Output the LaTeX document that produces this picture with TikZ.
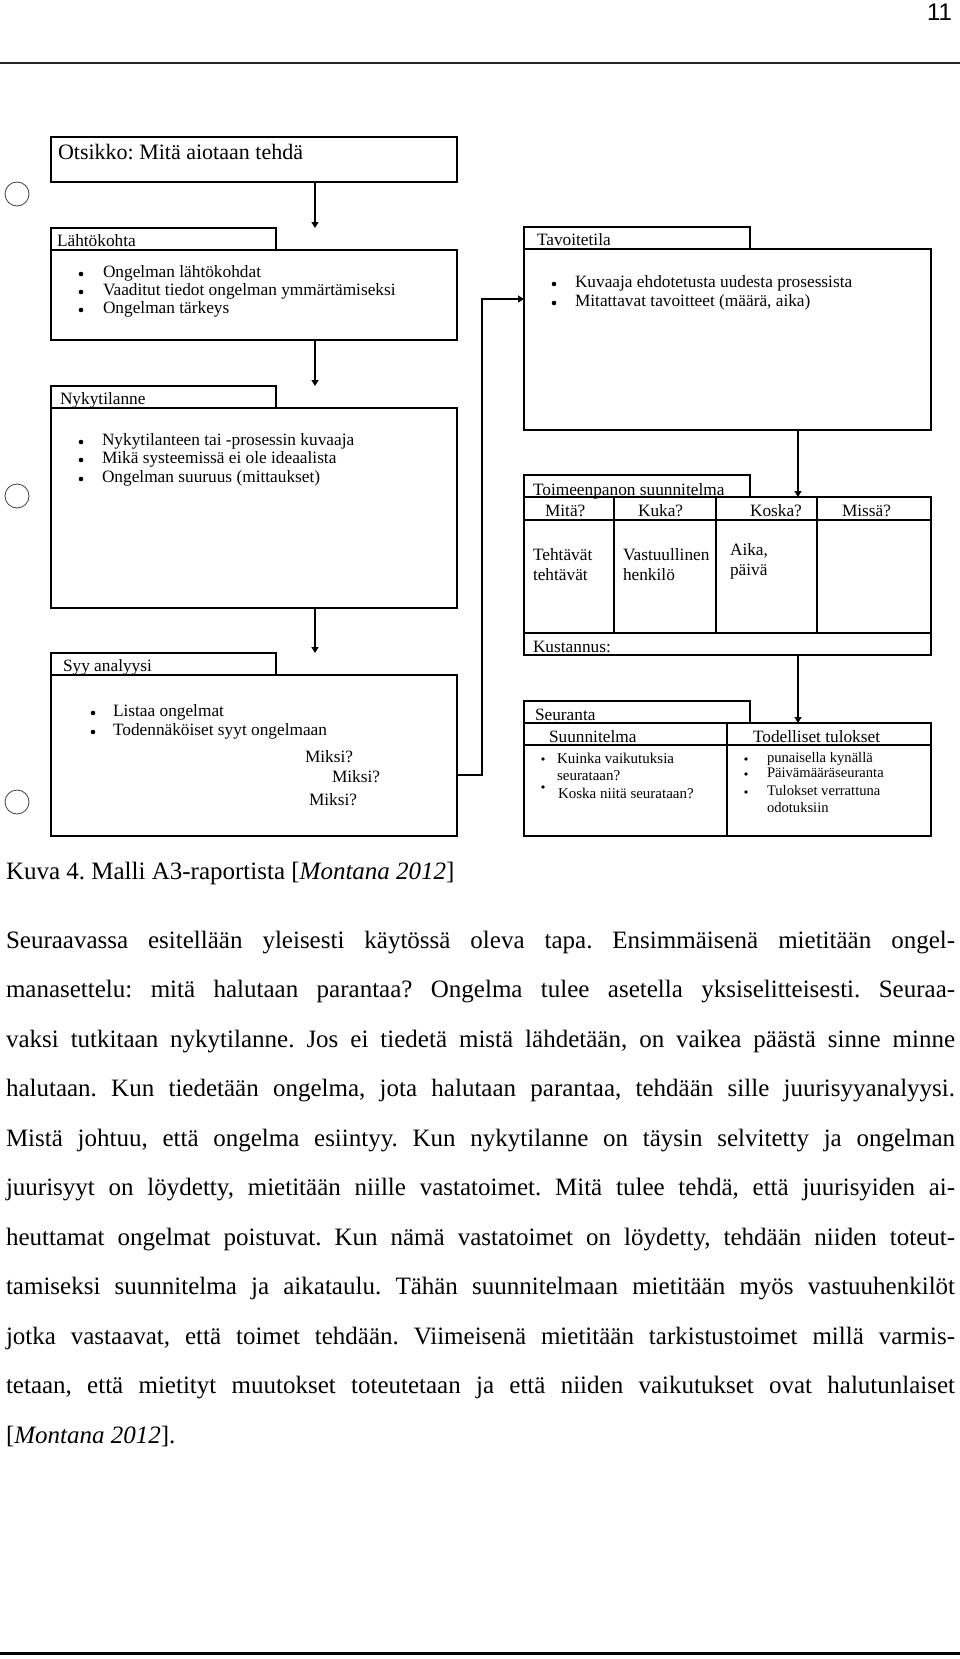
\documentclass[tikz,border=0pt]{standalone}
\usepackage{fontspec}
\setmainfont{Liberation Serif}
\newfontfamily\pnumfont{Liberation Sans}
\usetikzlibrary{arrows.meta}
\frenchspacing
\begin{document}
\begin{tikzpicture}[x=1pt,y=-1pt,
  every node/.style={inner sep=0pt, outer sep=0pt},
  frame/.style={draw=black, line width=1.1pt, anchor=north west},
  tfont/.style={font=\fontsize{17.3}{19}\selectfont},
  txt/.style={anchor=base west, tfont},
  small/.style={anchor=base west, font=\fontsize{15}{17}\selectfont},
  smaller/.style={anchor=base west, font=\fontsize{14.6}{17}\selectfont},
  body/.style={anchor=base west, font=\fontsize{25}{30}\selectfont},
  dot/.style={circle, fill=black, minimum size=4.6pt},
  sdot/.style={circle, fill=black, minimum size=3.6pt},
  ring/.style={circle, draw=black!75, line width=0.8pt, minimum size=24pt},
  conn/.style={draw=black, line width=1.2pt, -{Triangle[length=6pt,width=7pt]}},
  rule/.style={draw=black, line width=1.5pt}
]
\useasboundingbox (0,0) rectangle (960,1659);

% page number and rules
\node[anchor=base east, font=\pnumfont\fontsize{24}{24}\selectfont] (pnum) at (952,21) {11};
\draw[rule, black!85] (0,63) -- (960,63);
\draw[draw=black, line width=3pt] (0,1653) -- (960,1653);

% side circles
\node[ring] (c1) at (17,194) {};
\node[ring] (c2) at (17,496) {};
\node[ring] (c3) at (17,802) {};

% ---------- left column ----------
\node[frame, minimum width=406pt, minimum height=45pt] (otsikko) at (51,137) {};
\node[anchor=base west, font=\fontsize{22}{24}\selectfont] (otsikkot) at (58,160) {Otsikko: Mitä aiotaan tehdä};

\node[frame, minimum width=225pt, minimum height=22pt] (lahtotab) at (51,228) {};
\node[txt] (lahtot) at (57,246) {Lähtökohta};
\node[frame, minimum width=406pt, minimum height=90pt] (lahto) at (51,250) {};
\node[dot] (lb1) at (81,274) {};
\node[dot] (lb2) at (81,292) {};
\node[dot] (lb3) at (81,310) {};
\node[txt] (l1) at (103,277) {Ongelman lähtökohdat};
\node[txt] (l2) at (103,295) {Vaaditut tiedot ongelman ymmärtämiseksi};
\node[txt] (l3) at (103,313) {Ongelman tärkeys};

\node[frame, minimum width=225pt, minimum height=22pt] (nykytab) at (51,386) {};
\node[txt] (nykyt) at (60,404) {Nykytilanne};
\node[frame, minimum width=406pt, minimum height=200pt] (nyky) at (51,408) {};
\node[dot] (nb1) at (81,442) {};
\node[dot] (nb2) at (81,460) {};
\node[dot] (nb3) at (81,479) {};
\node[txt] (n1) at (102,445) {Nykytilanteen tai -prosessin kuvaaja};
\node[txt] (n2) at (102,463) {Mikä systeemissä ei ole ideaalista};
\node[txt] (n3) at (102,482) {Ongelman suuruus (mittaukset)};

\node[frame, minimum width=225pt, minimum height=22pt] (syytab) at (51,653) {};
\node[txt] (syyt) at (63,671) {Syy analyysi};
\node[frame, minimum width=406pt, minimum height=161pt] (syy) at (51,675) {};
\node[dot] (sb1) at (93,713) {};
\node[dot] (sb2) at (93,732) {};
\node[txt] (s1) at (113,716) {Listaa ongelmat};
\node[txt] (s2) at (113,735) {Todennäköiset syyt ongelmaan};
\node[txt] (m1) at (305,762) {Miksi?};
\node[txt] (m2) at (332,782) {Miksi?};
\node[txt] (m3) at (309,805) {Miksi?};

% ---------- right column ----------
\node[frame, minimum width=226pt, minimum height=22pt] (tavotab) at (524,227) {};
\node[txt] (tavot) at (537,245) {Tavoitetila};
\node[frame, minimum width=407pt, minimum height=181pt] (tavo) at (524,249) {};
\node[dot] (tb1) at (554,284) {};
\node[dot] (tb2) at (554,303) {};
\node[txt] (ta1) at (575,287) {Kuvaaja ehdotetusta uudesta prosessista};
\node[txt] (ta2) at (575,306) {Mitattavat tavoitteet (määrä, aika)};

\node[frame, minimum width=226pt, minimum height=22pt] (toimtab) at (524,475) {};
\node[txt] (toimt) at (533,495) {Toimeenpanon suunnitelma};
\node[frame, minimum width=407pt, minimum height=158pt] (toim) at (524,497) {};
\draw[line width=1.1pt] (524,520) -- (931,520);
\draw[line width=1.1pt] (524,633) -- (931,633);
\draw[line width=1.1pt] (614,497) -- (614,633);
\draw[line width=1.1pt] (716,497) -- (716,633);
\draw[line width=1.1pt] (817,497) -- (817,633);
\node[txt] (h1) at (545,516) {Mitä?};
\node[txt] (h2) at (638,516) {Kuka?};
\node[txt] (h3) at (750,516) {Koska?};
\node[txt] (h4) at (842,516) {Missä?};
\node[txt] (b1) at (533,560) {Tehtävät};
\node[txt] (b2) at (533,580) {tehtävät};
\node[txt] (b3) at (623,560) {Vastuullinen};
\node[txt] (b4) at (623,580) {henkilö};
\node[txt] (b5) at (730,555) {Aika,};
\node[txt] (b6) at (730,575) {päivä};
\node[txt] (kust) at (533,652) {Kustannus:};

\node[frame, minimum width=226pt, minimum height=22pt] (seurtab) at (524,701) {};
\node[txt] (seurt) at (535,720) {Seuranta};
\node[frame, minimum width=407pt, minimum height=113pt] (seur) at (524,723) {};
\draw[line width=1.1pt] (524,745) -- (727,745);
\node[txt] (suun) at (549,742) {Suunnitelma};
\node[draw=black, line width=2.2pt, anchor=north west, minimum width=204pt, minimum height=113pt] (todel) at (727,723) {};
\draw[line width=1.1pt] (727,745) -- (931,745);
\node[txt] (todelt) at (753,742) {Todelliset tulokset};
\node[sdot] (eb1) at (543,759) {};
\node[sdot] (eb2) at (543,787) {};
\node[small] (e1) at (557,763) {Kuinka vaikutuksia};
\node[small] (e2) at (557,780) {seurataan?};
\node[small] (e3) at (558,798) {Koska niitä seurataan?};
\node[sdot] (rb1) at (746,759) {};
\node[sdot] (rb2) at (746,774) {};
\node[sdot] (rb3) at (746,792) {};
\node[smaller] (r1) at (767,762) {punaisella kynällä};
\node[smaller] (r2) at (767,777) {Päivämääräseuranta};
\node[smaller] (r3) at (767,795) {Tulokset verrattuna};
\node[smaller] (r4) at (767,812) {odotuksiin};

% ---------- connectors ----------
\coordinate (ax) at (315,0);
\coordinate (bx) at (798,0);
\coordinate (bend1) at (482,775);
\coordinate (bend2) at (482,299);
\draw[conn] (otsikko.south -| ax) -- (lahtotab.north -| ax);
\draw[conn] (lahto.south -| ax) -- (nykytab.north -| ax);
\draw[conn] (nyky.south -| ax) -- (syytab.north -| ax);
\draw[conn] (syy.east |- bend1) -- (bend1) -- (bend2) -- (tavo.west |- bend2);
\draw[conn] (tavo.south -| bx) -- (toim.north -| bx);
\draw[conn] (toim.south -| bx) -- (seur.north -| bx);

% ---------- text ----------
\node[body] (cap) at (6,879) {Kuva 4. Malli A3-raportista [\textit{Montana 2012}]};
\node[body] (p1) at (6,948) {\makebox[949pt][s]{Seuraavassa esitellään yleisesti käytössä oleva tapa. Ensimmäisenä mietitään ongel-}};
\node[body] (p2) at (6,997.5) {\makebox[949pt][s]{manasettelu: mitä halutaan parantaa? Ongelma tulee asetella yksiselitteisesti. Seuraa-}};
\node[body] (p3) at (6,1047) {\makebox[949pt][s]{vaksi tutkitaan nykytilanne. Jos ei tiedetä mistä lähdetään, on vaikea päästä sinne minne}};
\node[body] (p4) at (6,1096.5) {\makebox[949pt][s]{halutaan. Kun tiedetään ongelma, jota halutaan parantaa, tehdään sille juurisyyanalyysi.}};
\node[body] (p5) at (6,1146) {\makebox[949pt][s]{Mistä johtuu, että ongelma esiintyy. Kun nykytilanne on täysin selvitetty ja ongelman}};
\node[body] (p6) at (6,1195.5) {\makebox[949pt][s]{juurisyyt on löydetty, mietitään niille vastatoimet. Mitä tulee tehdä, että juurisyiden ai-}};
\node[body] (p7) at (6,1245) {\makebox[949pt][s]{heuttamat ongelmat poistuvat. Kun nämä vastatoimet on löydetty, tehdään niiden toteut-}};
\node[body] (p8) at (6,1294.5) {\makebox[949pt][s]{tamiseksi suunnitelma ja aikataulu. Tähän suunnitelmaan mietitään myös vastuuhenkilöt}};
\node[body] (p9) at (6,1344) {\makebox[949pt][s]{jotka vastaavat, että toimet tehdään. Viimeisenä mietitään tarkistustoimet millä varmis-}};
\node[body] (p10) at (6,1393.5) {\makebox[949pt][s]{tetaan, että mietityt muutokset toteutetaan ja että niiden vaikutukset ovat halutunlaiset}};
\node[body] (p11) at (6,1443) {[\textit{Montana 2012}].};
\end{tikzpicture}
\end{document}
